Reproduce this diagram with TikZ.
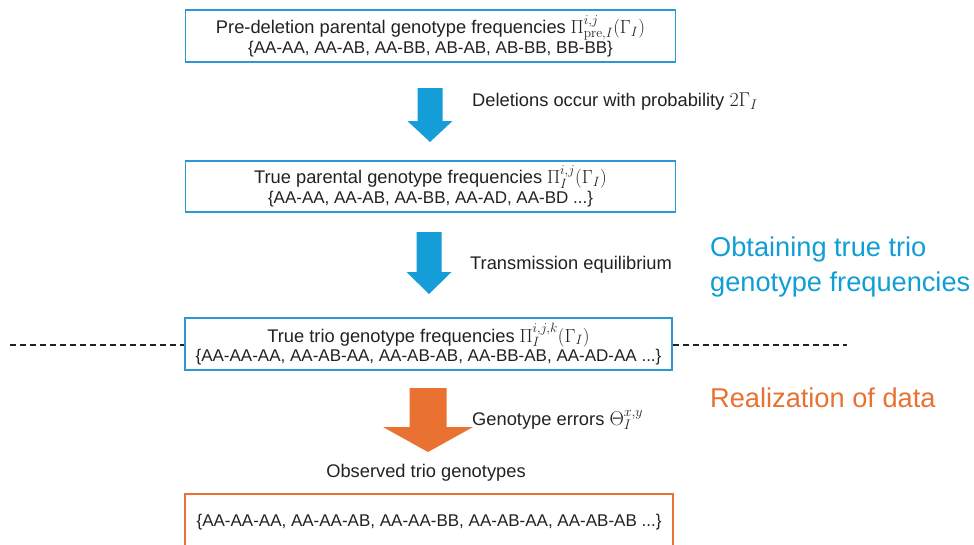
\documentclass[tikz,border=0pt]{standalone}
\usepackage{fix-cm}
\usepackage[no-math]{fontspec}
\setmainfont{Liberation Sans}
\usetikzlibrary{calc}

% slightly larger formulas next to the sans text
\DeclareMathSizes{17}{19}{13.5}{10}
\DeclareMathSizes{18.3}{20}{14}{10.5}

\definecolor{boxblue}{HTML}{2A98D4}
\definecolor{arrowblue}{HTML}{159DD8}
\definecolor{headblue}{HTML}{0F9ED5}
\definecolor{dataorange}{HTML}{E97132}
\definecolor{inkgray}{HTML}{222222}

% downward block arrow: colour, centre x, top y, neck y, tip y, shaft half-width, head half-width
\newcommand\blockdown[7]{%
  \fill[#1] (#2-#6,#3) -- (#2+#6,#3) -- (#2+#6,#4) -- (#2+#7,#4) -- (#2,#5)
            -- (#2-#7,#4) -- (#2-#6,#4) -- cycle;}
\newcommand\wordsize{\fontsize{18.3}{22}\selectfont}

\tikzset{
  stagebox/.style={draw=boxblue, line width=1.8pt, inner sep=0pt, align=center,
                   minimum width=#1, text=inkgray,
                   font=\fontsize{17}{21}\selectfont},
  steplabel/.style={anchor=west, inner sep=0pt, text=inkgray,
                    font=\wordsize},
  phaselabel/.style={anchor=west, inner sep=0pt, align=left,
                     font=\fontsize{27.2}{35}\selectfont}
}
\tikzset{divider/.style={draw=inkgray, line width=1.2pt, dash pattern=on 6pt off 4pt}}

\begin{document}
\begin{tikzpicture}[x=1pt,y=-1pt]
\useasboundingbox (0,0) rectangle (974,544);
\fill[white] (0,0) rectangle (974,544);

% stage boxes
\node[stagebox=490pt, minimum height=52pt] (pre) at (430.5,36)
  {{\wordsize Pre-deletion parental genotype frequencies} $\Pi^{i,j}_{\mathrm{pre},I}(\Gamma_I)$\\[-1pt]
   \{AA-AA, AA-AB, AA-BB, AB-AB, AB-BB, BB-BB\}};
\node[stagebox=490pt, minimum height=51pt] (par) at (430.5,186.5)
  {{\wordsize True parental genotype frequencies} $\Pi^{i,j}_{I}(\Gamma_I)$\\[-1pt]
   \{AA-AA, AA-AB, AA-BB, AA-AD, AA-BD ...\}};
\node[stagebox=487pt, minimum height=52pt] (trio) at (428.5,344)
  {{\wordsize True trio genotype frequencies} $\Pi^{i,j,k}_{I}(\Gamma_I)$\\[-2pt]
   \{AA-AA-AA, AA-AB-AA, AA-AB-AB, AA-BB-AB, AA-AD-AA ...\}};

% observed data box (open at the lower edge)
\node[steplabel, anchor=center] (obstitle) at (426,473) {Observed trio genotypes};
\node[stagebox=0pt, draw=none, anchor=center] (obs) at (429,522)
  {\{AA-AA-AA, AA-AA-AB, AA-AA-BB, AA-AB-AA, AA-AB-AB ...\}};
\coordinate (obsTL) at (185,494);
\coordinate (obsTR) at (673,494);
\draw[dataorange, line width=1.8pt] (obsTL |- 0,546) -- (obsTL) -- (obsTR) -- (obsTR |- 0,546);

% block arrows
\blockdown{arrowblue}{430}{88}{121}{142}{12.5}{22.5}
\blockdown{arrowblue}{429}{232}{272}{294}{12.5}{22.5}
\blockdown{dataorange}{428}{388}{427}{452}{18.5}{45}

% step labels
\node[steplabel] (del) at (472,102) {Deletions occur with probability $2\Gamma_I$};
\node[steplabel] (tra) at (470,265) {Transmission equilibrium};
\node[steplabel] (err) at (472,420) {Genotype errors $\Theta^{x,y}_{I}$};

% divider between the two phases
\coordinate (divL) at (10,345);
\coordinate (divR) at (847,345);
\draw[divider] (divL) -- (trio.west |- divL);
\draw[divider] (trio.east |- divR) -- (divR);

% phase labels
\node[phaselabel, text=headblue] (phase1) at (710,267)
  {Obtaining true trio\\genotype frequencies};
\node[phaselabel, text=dataorange] (phase2) at (710,398) {Realization of data};
\end{tikzpicture}
\end{document}
